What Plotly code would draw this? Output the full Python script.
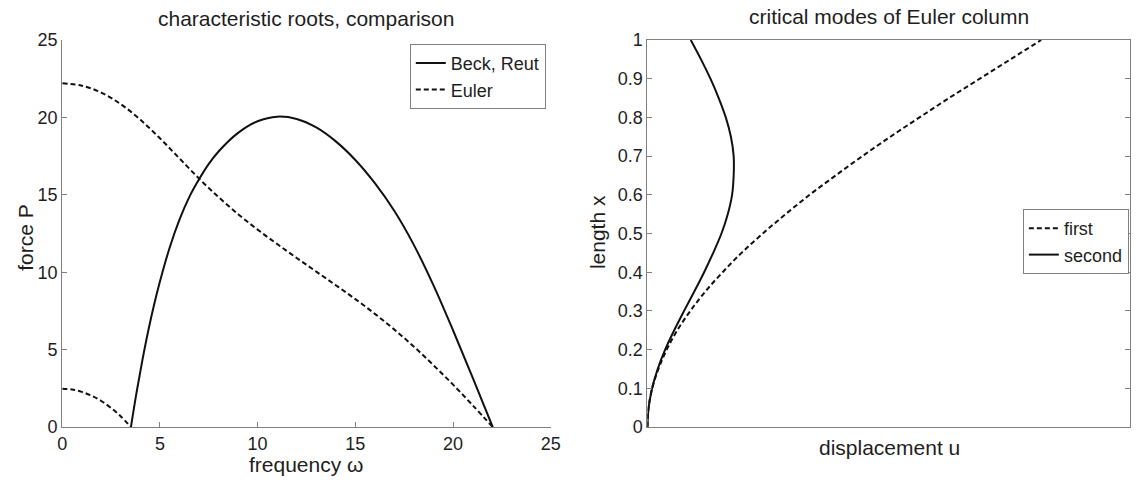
import plotly.graph_objects as go

# ---------------- data ----------------
# left panel: characteristic roots
beck_w = [3.516, 3.8, 4.1, 4.4, 4.7, 5.0, 5.5, 6.0, 6.5, 7.0, 7.5, 8.0, 9.0, 10.0, 11.0,
          12.0, 13.0, 14.0, 15.0, 16.0, 17.0, 18.0, 19.0, 20.0, 21.0, 22.03]
beck_P = [0.0, 2.2, 4.3, 6.2, 7.9, 9.4, 11.6, 13.4, 14.85, 16.0, 17.0, 17.8, 19.0, 19.75, 20.05,
          19.9, 19.35, 18.45, 17.25, 15.75, 13.95, 11.75, 9.15, 6.25, 3.2, 0.0]

euler1_w = [0.0, 1.0, 2.0, 3.0, 4.0, 5.0, 6.0, 7.0, 8.0, 9.0, 10.0, 11.0, 12.0,
            13.0, 14.0, 15.0, 16.0, 17.0, 18.0, 19.0, 20.0, 21.0, 22.03]
euler1_P = [22.2, 22.05, 21.6, 20.85, 19.85, 18.65, 17.35, 16.05, 14.85, 13.75, 12.75, 11.82,
            10.92, 10.04, 9.16, 8.26, 7.31, 6.29, 5.19, 3.99, 2.74, 1.41, 0.0]

euler2_w = [0.0, 0.5, 1.0, 1.5, 2.0, 2.5, 3.0, 3.516]
euler2_P = [2.47, 2.42, 2.27, 2.02, 1.68, 1.23, 0.68, 0.0]

# right panel: critical modes
length_x = [0.0, 0.05, 0.1, 0.15, 0.2, 0.25, 0.3, 0.35, 0.4, 0.45, 0.5,
            0.55, 0.6, 0.65, 0.7, 0.75, 0.8, 0.85, 0.9, 0.95, 1.0]
mode_first = [0.0, 0.003, 0.012, 0.028, 0.049, 0.076, 0.109, 0.147, 0.191, 0.239, 0.293,
              0.351, 0.412, 0.478, 0.546, 0.617, 0.691, 0.766, 0.844, 0.922, 1.0]
mode_second = [0.0, 0.003, 0.012, 0.026, 0.045, 0.068, 0.093, 0.119, 0.144, 0.167, 0.188,
               0.204, 0.215, 0.219, 0.219, 0.212, 0.199, 0.181, 0.160, 0.136, 0.110]

left_ticks = [0, 5, 10, 15, 20, 25]
right_ticks = [0, 0.1, 0.2, 0.3, 0.4, 0.5, 0.6, 0.7, 0.8, 0.9, 1.0]
right_ticktext = ["0", "0.1", "0.2", "0.3", "0.4", "0.5", "0.6", "0.7", "0.8", "0.9", "1"]

# ---------------- styling ----------------
FONT = "Liberation Sans, Arial, Helvetica, sans-serif"
TXT = "#1e1e1e"
AX = "#808080"
LINE = "#111111"
DASH = "5px,3px"

fig = go.Figure()

fig.add_trace(go.Scatter(x=beck_w, y=beck_P, mode="lines", name="Beck, Reut",
                         line=dict(color=LINE, width=2, shape="spline"),
                         xaxis="x", yaxis="y", legend="legend"))
fig.add_trace(go.Scatter(x=euler1_w, y=euler1_P, mode="lines", name="Euler",
                         legendgroup="euler",
                         line=dict(color=LINE, width=2, dash=DASH, shape="spline"),
                         xaxis="x", yaxis="y", legend="legend"))
fig.add_trace(go.Scatter(x=euler2_w, y=euler2_P, mode="lines", name="Euler",
                         legendgroup="euler", showlegend=False,
                         line=dict(color=LINE, width=2, dash=DASH, shape="spline"),
                         xaxis="x", yaxis="y", legend="legend"))

fig.add_trace(go.Scatter(x=mode_first, y=length_x, mode="lines", name="first",
                         line=dict(color=LINE, width=2, dash=DASH, shape="spline"),
                         xaxis="x2", yaxis="y2", legend="legend2"))
fig.add_trace(go.Scatter(x=mode_second, y=length_x, mode="lines", name="second",
                         line=dict(color=LINE, width=2, shape="spline"),
                         xaxis="x2", yaxis="y2", legend="legend2"))

W, H = 1140, 484
L_DOM = [58 / W, 553 / W]
R_DOM = [651 / W, 1.0]

axis_common = dict(showgrid=False, zeroline=False, linecolor=AX, linewidth=1,
                   ticklen=5, tickcolor=AX, tickwidth=1,
                   tickfont=dict(family=FONT, size=18, color=TXT), fixedrange=True)

fig.update_layout(
    width=W, height=H,
    margin=dict(l=0, r=0, t=40, b=57),
    paper_bgcolor="white", plot_bgcolor="white",
    font=dict(family=FONT, color=TXT),
    xaxis=dict(domain=L_DOM, range=[0, 25], tickvals=left_ticks, showline=True,
               ticks="inside", anchor="y", **axis_common),
    yaxis=dict(domain=[0, 1], range=[0, 25], tickvals=left_ticks, showline=True,
               ticks="inside", anchor="x", **axis_common),
    xaxis2=dict(domain=R_DOM, range=[0, 1.2256], showline=True, mirror=True,
                showticklabels=False, ticks="", anchor="y2", **axis_common),
    yaxis2=dict(domain=[0, 1], range=[0, 1], tickvals=right_ticks, ticktext=right_ticktext,
                showline=True, mirror="ticks", ticks="inside", anchor="x2", **axis_common),
    legend=dict(x=548 / W, xanchor="right", y=0.99, yanchor="top",
                bgcolor="white", bordercolor=AX, borderwidth=1,
                font=dict(family=FONT, size=18, color=TXT),
                tracegroupgap=0, itemwidth=30),
    legend2=dict(x=0.999, xanchor="right", y=1 - (209 - 40) / 387, yanchor="top",
                 bgcolor="white", bordercolor=AX, borderwidth=1,
                 font=dict(family=FONT, size=18, color=TXT),
                 tracegroupgap=0, itemwidth=30),
    showlegend=True,
)

ann = dict(xref="paper", yref="paper", showarrow=False,
           font=dict(family=FONT, size=21, color=TXT))
fig.add_annotation(text="characteristic roots, comparison", x=305.5 / W, y=1 + 22 / 387,
                   xanchor="center", yanchor="middle", **ann)
fig.add_annotation(text="critical modes of Euler column", x=896 / W, y=1 + 23 / 387,
                   xanchor="center", yanchor="middle", **ann)
fig.add_annotation(text="frequency ω", x=305.5 / W, y=(427 - 464) / 387,
                   xanchor="center", yanchor="middle", **ann)
fig.add_annotation(text="displacement u", x=896 / W, y=(427 - 447) / 387,
                   xanchor="center", yanchor="middle", **ann)
fig.add_annotation(text="force P", x=20 / W, y=1 - (237 - 40) / 387, textangle=-90,
                   xanchor="center", yanchor="middle", **ann)
fig.add_annotation(text="length x", x=600 / W, y=1 - (232 - 40) / 387, textangle=-90,
                   xanchor="center", yanchor="middle", **ann)

fig.write_html("out.html", config={"displayModeBar": False})
